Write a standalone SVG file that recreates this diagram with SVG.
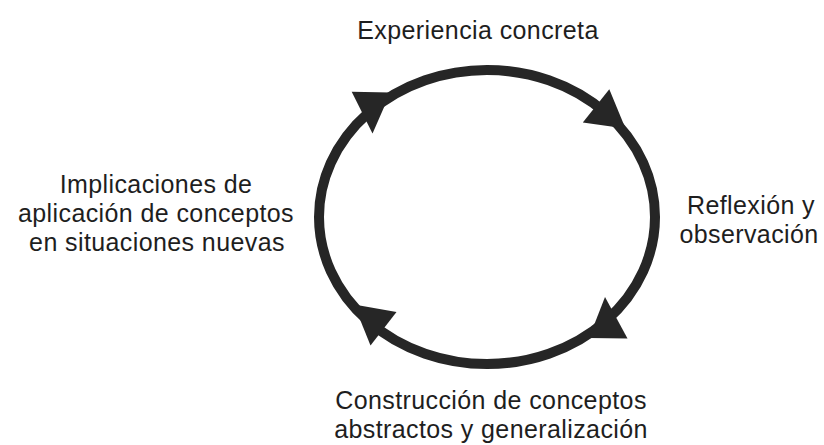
<svg xmlns="http://www.w3.org/2000/svg" width="824" height="445" viewBox="0 0 824 445">
<style>
.lbl{font-family:"Liberation Sans",Arial,sans-serif;font-size:25px;letter-spacing:0.4px;fill:#1e1e1e;text-anchor:middle}
.ring{fill:none;stroke:#262626;stroke-width:10}
.head{fill:#262626}
</style>
<rect width="824" height="445" fill="#ffffff"/>
<g id="connectors">
<ellipse class="ring" cx="487" cy="217" rx="168" ry="147"/>
<polygon class="head" points="351.7,91.7 390.5,92.5 372.5,133.5"/>
<polygon class="head" points="609.3,89.3 582.8,122.5 625.5,128.5"/>
<polygon class="head" points="605,297 627.5,338.5 589,338"/>
<polygon class="head" points="396.5,312 370.5,345.5 354,304.5"/>
</g>
<g id="node-experiencia">
<text class="lbl" x="478" y="39">Experiencia concreta</text>
</g>
<g id="node-reflexion">
<text class="lbl" x="751" y="214">Reflexión y</text>
<text class="lbl" x="749" y="243">observación</text>
</g>
<g id="node-construccion">
<text class="lbl" x="491" y="409">Construcción de conceptos</text>
<text class="lbl" x="491" y="438">abstractos y generalización</text>
</g>
<g id="node-implicaciones">
<text class="lbl" x="156" y="193">Implicaciones de</text>
<text class="lbl" x="156" y="222">aplicación de conceptos</text>
<text class="lbl" x="157" y="251">en situaciones nuevas</text>
</g>
</svg>
